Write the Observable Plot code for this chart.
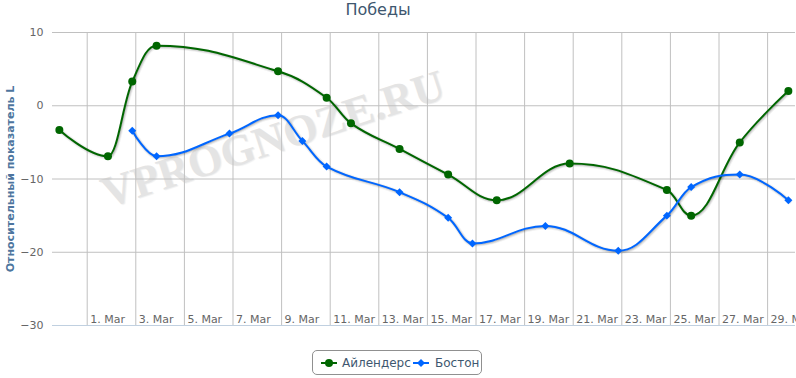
<!DOCTYPE html>
<html>
<head>
<meta charset="utf-8">
<script src="https://cdn.jsdelivr.net/npm/d3@7"></script>
<script src="https://cdn.jsdelivr.net/npm/@observablehq/plot@0.6"></script>
<style>
  html, body { margin: 0; padding: 0; background: #fff; }
  #chart { position: relative; width: 796px; height: 378px; overflow: hidden; font-family: "DejaVu Sans", Verdana, sans-serif; }
  #wm { position: absolute; left: 273px; top: 139px; transform: translate(-50%, -50%) rotate(-18deg); font-family: "Liberation Serif", serif; font-weight: bold; font-size: 44px; color: #e4e4e4; white-space: nowrap; text-shadow: 1px 1px 1px #f0f0f0; }
  #title { position: absolute; left: 278px; top: 0; width: 200px; text-align: center; font-size: 16px; line-height: 20px; color: #3E576F; }
  #ytitle { position: absolute; left: 10px; top: 179px; transform: translate(-50%, -50%) rotate(-90deg); font-size: 11px; font-weight: bold; color: #4D759E; white-space: nowrap; }
  #plot { position: absolute; left: 0; top: 0; }
  #legend { position: absolute; left: 312px; top: 350px; width: 170px; height: 25px; box-sizing: border-box; border: 1px solid #909090; border-radius: 5px; }
  .lt { position: absolute; top: 4px; font-size: 12px; line-height: 16px; color: #3E576F; white-space: nowrap; }
  .ls { position: absolute; top: 7px; }
</style>
</head>
<body>
<div id="chart">
  <div id="wm">VPROGNOZE.RU</div>
  <div id="plot"></div>
  <div id="title">Победы</div>
  <div id="ytitle">Относительный показатель L</div>
  <div id="legend"></div>
</div>
<script>
// ---- data ----
const seriesNames = ["Айлендерс", "Бостон"];
const seriesColors = ["#006600", "#0066FF"];

const islandersDates = ["2011-02-27", "2011-03-01", "2011-03-02", "2011-03-03", "2011-03-08", "2011-03-10", "2011-03-11", "2011-03-13", "2011-03-15", "2011-03-17", "2011-03-20", "2011-03-24", "2011-03-25", "2011-03-27", "2011-03-29"];
const islandersValues = [-3.3, -6.9, 3.3, 8.2, 4.7, 1.1, -2.4, -5.9, -9.4, -12.9, -7.9, -11.5, -15.0, -5.0, 2.0];

const bostonDates = ["2011-03-02", "2011-03-03", "2011-03-06", "2011-03-08", "2011-03-09", "2011-03-10", "2011-03-13", "2011-03-15", "2011-03-16", "2011-03-19", "2011-03-22", "2011-03-24", "2011-03-25", "2011-03-27", "2011-03-29"];
const bostonValues = [-3.4, -6.9, -3.8, -1.3, -4.8, -8.3, -11.8, -15.3, -18.8, -16.4, -19.8, -15.0, -11.1, -9.4, -12.9];

const gameTime = "T20:30:00Z";
const xTickDates = ["2011-03-01", "2011-03-03", "2011-03-05", "2011-03-07", "2011-03-09", "2011-03-11", "2011-03-13", "2011-03-15", "2011-03-17", "2011-03-19", "2011-03-21", "2011-03-23", "2011-03-25", "2011-03-27", "2011-03-29"];
const yTicks = [10, 0, -10, -20, -30];
const xDomain = ["2011-02-27T13:44:00Z", "2011-03-30T03:33:00Z"];
const yDomain = [-30, 10];

// ---- build tables ----
const islanders = islandersDates.map((d, i) => ({date: new Date(d + gameTime), value: islandersValues[i]}));
const boston = bostonDates.map((d, i) => ({date: new Date(d + gameTime), value: bostonValues[i]}));
const xTicks = xTickDates.map(d => new Date(d + "T00:00:00Z"));

// Highcharts-style spline curve
function hcSpline(context) {
  let pts;
  return {
    areaStart() {}, areaEnd() {},
    lineStart() { pts = []; },
    point(x, y) { pts.push([+x, +y]); },
    lineEnd() {
      const n = pts.length;
      if (!n) return;
      context.moveTo(pts[0][0], pts[0][1]);
      const s = 1.5, den = s + 1;
      let prevRC = null;
      for (let i = 1; i < n; i++) {
        const [x, y] = pts[i];
        let lcx = x, lcy = y, rc = null;
        if (i < n - 1) {
          const [lx, ly] = pts[i - 1], [nx, ny] = pts[i + 1];
          lcx = (s * x + lx) / den; lcy = (s * y + ly) / den;
          let rcx = (s * x + nx) / den, rcy = (s * y + ny) / den;
          const corr = ((rcy - lcy) * (rcx - x)) / (rcx - lcx) + y - rcy;
          lcy += corr; rcy += corr;
          if (lcy > ly && lcy > y) { lcy = Math.max(ly, y); rcy = 2 * y - lcy; }
          else if (lcy < ly && lcy < y) { lcy = Math.min(ly, y); rcy = 2 * y - lcy; }
          if (rcy > ny && rcy > y) { rcy = Math.max(ny, y); lcy = 2 * y - rcy; }
          else if (rcy < ny && rcy < y) { rcy = Math.min(ny, y); lcy = 2 * y - rcy; }
          rc = [rcx, rcy];
        }
        const c1 = prevRC || pts[i - 1];
        context.bezierCurveTo(c1[0], c1[1], lcx, lcy, x, y);
        prevRC = rc;
      }
    }
  };
}

function shadowMarks(data) {
  return [1, 2, 3].map(k => Plot.line(data, {
    x: "date", y: "value", curve: hcSpline,
    stroke: "#000", strokeOpacity: 0.05 * k, strokeWidth: 7 - 2 * k, dx: 1, dy: 1
  }));
}

const fmt = d3.utcFormat("%-d. %b");

const chart = Plot.plot({
  width: 796,
  height: 340,
  marginLeft: 52,
  marginRight: 1,
  marginTop: 32,
  marginBottom: 15,
  style: {fontFamily: "'DejaVu Sans', Verdana, sans-serif", fontSize: "11px", color: "#666", background: "transparent", overflow: "visible"},
  x: {type: "utc", domain: xDomain.map(d => new Date(d))},
  y: {domain: yDomain},
  marks: [
    Plot.gridX({ticks: xTicks, stroke: "#C0C0C0", strokeOpacity: 1, strokeWidth: 1}),
    Plot.gridY({ticks: yTicks.filter(t => t !== -30), stroke: "#C0C0C0", strokeOpacity: 1, strokeWidth: 1}),
    Plot.ruleY([-30], {stroke: "#C0D0E0", strokeWidth: 1}),
    Plot.axisX({ticks: xTicks, tickSize: 0, tickPadding: 0, tickFormat: fmt, textAnchor: "start", dx: 3, dy: -10.5, label: null, fill: "#666"}),
    Plot.axisY({ticks: yTicks, tickSize: 0, tickPadding: 9, label: null, fill: "#666"}),
    ...shadowMarks(islanders),
    Plot.line(islanders, {x: "date", y: "value", curve: hcSpline, stroke: seriesColors[0], strokeWidth: 2}),
    ...shadowMarks(boston),
    Plot.line(boston, {x: "date", y: "value", curve: hcSpline, stroke: seriesColors[1], strokeWidth: 2}),
    Plot.dot(islanders, {x: "date", y: "value", r: 4, fill: seriesColors[0], stroke: null}),
    Plot.dot(boston, {x: "date", y: "value", symbol: "diamond2", r: 3.6, fill: seriesColors[1], stroke: null})
  ]
});
document.getElementById("plot").appendChild(chart);

// ---- legend ----
const legend = document.getElementById("legend");
const items = [
  {sym: 8, txt: 29, shape: "circle"},
  {sym: 100, txt: 122, shape: "diamond"}
];
items.forEach((it, i) => {
  const ns = "http://www.w3.org/2000/svg";
  const svg = document.createElementNS(ns, "svg");
  svg.setAttribute("width", 16); svg.setAttribute("height", 10);
  svg.setAttribute("class", "ls");
  svg.style.left = it.sym + "px";
  const ln = document.createElementNS(ns, "line");
  ln.setAttribute("x1", 0); ln.setAttribute("x2", 16); ln.setAttribute("y1", 5); ln.setAttribute("y2", 5);
  ln.setAttribute("stroke", seriesColors[i]); ln.setAttribute("stroke-width", 2);
  svg.appendChild(ln);
  if (it.shape === "circle") {
    const c = document.createElementNS(ns, "circle");
    c.setAttribute("cx", 8); c.setAttribute("cy", 5); c.setAttribute("r", 4);
    c.setAttribute("fill", seriesColors[i]);
    svg.appendChild(c);
  } else {
    const p = document.createElementNS(ns, "path");
    p.setAttribute("d", "M8,1L12,5L8,9L4,5Z");
    p.setAttribute("fill", seriesColors[i]);
    svg.appendChild(p);
  }
  legend.appendChild(svg);
  const t = document.createElement("div");
  t.className = "lt";
  t.style.left = it.txt + "px";
  t.textContent = seriesNames[i];
  legend.appendChild(t);
});
</script>
</body>
</html>
